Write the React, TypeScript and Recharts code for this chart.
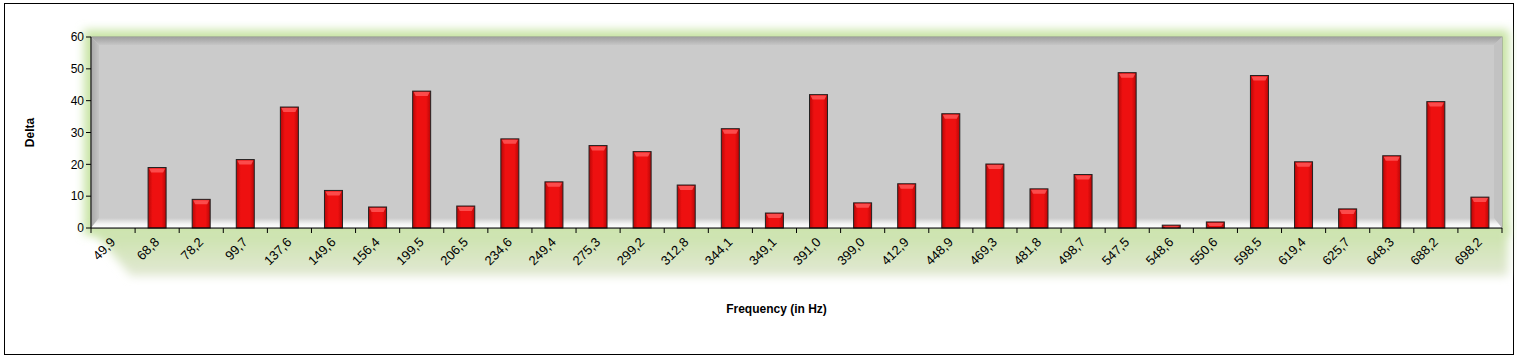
import { BarChart, Bar, XAxis, YAxis } from 'recharts';

const frequencies = [
  '49,9', '68,8', '78,2', '99,7', '137,6', '149,6', '156,4', '199,5',
  '206,5', '234,6', '249,4', '275,3', '299,2', '312,8', '344,1', '349,1',
  '391,0', '399,0', '412,9', '448,9', '469,3', '481,8', '498,7', '547,5',
  '548,6', '550,6', '598,5', '619,4', '625,7', '648,3', '688,2', '698,2',
];

const deltas = [
  0, 19, 9, 21.5, 38, 11.8, 6.6, 43,
  6.9, 28, 14.5, 25.9, 24, 13.5, 31.2, 4.7,
  41.9, 7.9, 13.9, 35.9, 20.1, 12.3, 16.8, 48.8,
  0.9, 1.9, 47.9, 20.8, 6, 22.7, 39.7, 9.7,
];

const yTicks = [0, 10, 20, 30, 40, 50, 60];

const data = frequencies.map((f, i) => ({ freq: f, delta: deltas[i] }));

const W = 1517;
const H = 359;
// plot box (matches chart margins below)
const L = 91, R = 1502, T = 37, B = 228;
const BAND = (R - L) / frequencies.length;

const FONT = '"Liberation Sans", Arial, sans-serif';

function XTick(props: any) {
  const { x, payload, index } = props;
  const last = index === frequencies.length - 1;
  const ax = x + 3;
  const ay = B + 15;
  return (
    <g>
      <line x1={x - BAND / 2} x2={x - BAND / 2} y1={B} y2={B + 5} stroke="#000" />
      {last && <line x1={x + BAND / 2} x2={x + BAND / 2} y1={B} y2={B + 5} stroke="#000" />}
      <text
        x={ax}
        y={ay}
        textAnchor="end"
        fontSize={13}
        fontFamily={FONT}
        fill="#000"
        transform={`rotate(-45 ${ax} ${ay})`}
      >
        {payload.value}
      </text>
    </g>
  );
}

function BevelBar(props: any) {
  const { x, y, width, height } = props;
  if (!height || height <= 0) return null;
  const bev = Math.min(4, height / 2);
  return (
    <g>
      <rect x={x} y={y} width={width} height={height} fill="url(#barFill)" stroke="#222" />
      <polygon
        points={`${x + 1},${y + 1} ${x + width - 1},${y + 1} ${x + width - 3},${y + bev + 1} ${x + 3},${y + bev + 1}`}
        fill="#ff5a5a"
        opacity={0.8}
      />
    </g>
  );
}

function Backdrop() {
  return (
    <svg width={W} height={H} style={{ position: 'absolute', left: 0, top: 0 }}>
      <defs>
        <filter id="blur" x="-5%" y="-20%" width="110%" height="140%">
          <feGaussianBlur stdDeviation="5" />
        </filter>
        <linearGradient id="floor" x1="0" y1="0" x2="0" y2="1">
          <stop offset="0" stopColor="#cbcbcb" />
          <stop offset="0.6" stopColor="#f4f4f4" />
          <stop offset="1" stopColor="#ffffff" />
        </linearGradient>
        <linearGradient id="wall" x1="0" y1="0" x2="1" y2="0">
          <stop offset="0" stopColor="#a8a8a8" />
          <stop offset="1" stopColor="#c4c4c4" />
        </linearGradient>
        <linearGradient id="topband" x1="0" y1="0" x2="0" y2="1">
          <stop offset="0" stopColor="#a0a0a0" />
          <stop offset="1" stopColor="#c6c6c6" />
        </linearGradient>
        <linearGradient id="shade" x1="0" y1="0" x2="0" y2="1">
          <stop offset="0" stopColor="#c9e2a8" />
          <stop offset="1" stopColor="#e2e8d4" />
        </linearGradient>
      </defs>
      <rect x={4.5} y={3.5} width={1509} height={351} fill="#fff" stroke="#000" />
      <rect x={L - 7} y={T - 7} width={R - L + 14} height={B - T + 14} fill="#c8e4a4" filter="url(#blur)" />
      <polygon
        points={`${L},${B} ${R + 6},${B} ${R + 6},${B + 48} ${L + 40},${B + 48}`}
        fill="url(#shade)"
        filter="url(#blur)"
      />
      <rect x={L} y={T} width={R - L} height={B - T} fill="#cbcbcb" stroke="#8c8c8c" />
      <polygon points={`${L},${T} ${R},${T} ${R - 8},${T + 8} ${L + 8},${T + 8}`} fill="url(#topband)" />
      <polygon points={`${L},${T} ${L + 8},${T + 8} ${L + 8},${B - 10} ${L},${B}`} fill="url(#wall)" />
      <polygon points={`${R},${T} ${R},${B} ${R - 8},${B - 10} ${R - 8},${T + 8}`} fill="#c2c2c2" />
      <polygon points={`${L},${B} ${L + 8},${B - 10} ${R - 8},${B - 10} ${R},${B}`} fill="url(#floor)" />
    </svg>
  );
}

export default function App() {
  return (
    <div style={{ position: 'absolute', left: 0, top: 0, width: W, height: H, background: '#fff' }}>
      <Backdrop />
      <div style={{ position: 'absolute', left: 0, top: 0 }}>
        <BarChart
          width={W}
          height={H}
          data={data}
          margin={{ top: T, right: W - R, left: 0, bottom: 0 }}
        >
          <defs>
            <linearGradient id="barFill" x1="0" y1="0" x2="1" y2="0">
              <stop offset="0" stopColor="#b80606" />
              <stop offset="0.25" stopColor="#ee1010" />
              <stop offset="0.75" stopColor="#ee1010" />
              <stop offset="1" stopColor="#b80606" />
            </linearGradient>
          </defs>
          <XAxis
            dataKey="freq"
            height={H - B}
            interval={0}
            tickLine={false}
            axisLine={{ stroke: '#000' }}
            tick={<XTick />}
            label={{
              value: 'Frequency (in Hz)',
              position: 'insideTop',
              offset: 76,
              dx: -20,
              style: { fontFamily: FONT, fontSize: 12, fontWeight: 'bold', fill: '#000' },
            }}
          />
          <YAxis
            width={L}
            domain={[0, 60]}
            ticks={yTicks}
            interval={0}
            tickSize={5}
            tickLine={{ stroke: '#000' }}
            axisLine={{ stroke: '#000' }}
            tick={{ fontFamily: FONT, fontSize: 12, fill: '#000' }}
            label={{
              value: 'Delta',
              angle: -90,
              position: 'insideLeft',
              offset: 30,
              style: { fontFamily: FONT, fontSize: 12, fontWeight: 'bold', fill: '#000', textAnchor: 'middle' },
            }}
          />
          <Bar
            dataKey="delta"
            barSize={18}
            shape={<BevelBar />}
            isAnimationActive={false}
          />
        </BarChart>
      </div>
    </div>
  );
}
